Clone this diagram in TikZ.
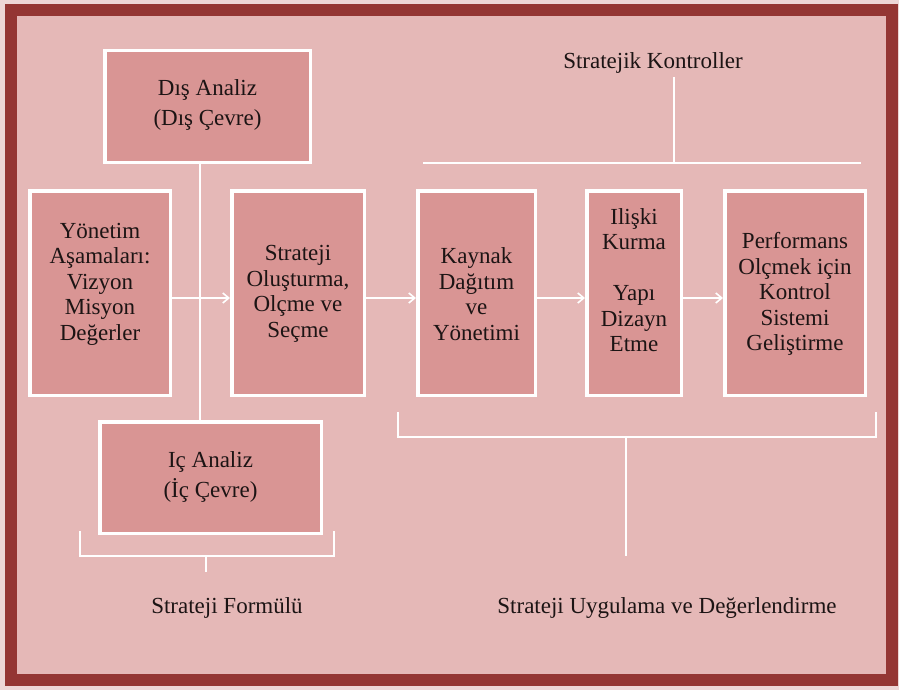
\documentclass[tikz,border=0pt]{standalone}
\usepackage{fontspec}
\setmainfont{Liberation Serif}
\newfontfamily\labelface{Liberation Serif}
\usetikzlibrary{arrows.meta,calc}

\definecolor{frameRed}{HTML}{943634}
\definecolor{panelPink}{HTML}{E5B8B7}
\definecolor{boxPink}{HTML}{D99594}
\definecolor{outerPale}{HTML}{EDD6D6}
\definecolor{inkDark}{HTML}{1C1414}

\tikzset{
  stagebox/.style={draw=white, line width=3.5pt, fill=boxPink, inner sep=0pt},
  lbl/.style={text=inkDark, font=\labelface\fontsize{23}{25.5}\selectfont, align=center, inner sep=0pt},
  lblwide/.style={text=inkDark, font=\labelface\fontsize{23}{30.5}\selectfont, align=center, inner sep=0pt},
  wire/.style={draw=white, line width=2pt},
  flow/.style={wire, -{Straight Barb[length=6pt,width=10pt,line width=1.6pt]}},
}

\begin{document}
\begin{tikzpicture}[x=1pt,y=-1pt]
  \useasboundingbox (0,0) rectangle (899,690);
  % page, frame and panel
  \fill[outerPale] (0,0) rectangle (899,690);
  \fill[panelPink] (11,10) rectangle (892,680);
  \draw[frameRed, line width=12pt] (11,10) rectangle (892,680);

  % stage boxes
  \node[stagebox, minimum width=205.5pt, minimum height=111.5pt] (dis) at (207.5,106.5) {};
  \node[stagebox, minimum width=140.5pt, minimum height=204.5pt] (yon) at (100,293) {};
  \node[stagebox, minimum width=132.5pt, minimum height=204.5pt] (str) at (298,293) {};
  \node[stagebox, minimum width=117.5pt, minimum height=204.5pt] (kay) at (476.5,293) {};
  \node[stagebox, minimum width=94.5pt,  minimum height=204.5pt] (ili) at (634,293) {};
  \node[stagebox, minimum width=140.5pt, minimum height=204.5pt] (per) at (795,293) {};
  \node[stagebox, minimum width=221.5pt, minimum height=111.5pt] (ic)  at (210.5,477.5) {};

  % box texts
  \node[lblwide] (disT) at (207.5,105) {Dış Analiz\\(Dış Çevre)};
  \node[lbl] (yonT) at (100,284) {Yönetim\\Aşamaları:\\Vizyon\\Misyon\\Değerler};
  \node[lbl] (strT) at (298,294) {Strateji\\Oluşturma,\\Olçme ve\\Seçme};
  \node[lbl] (kayT) at (476.5,294) {Kaynak\\Dağıtım\\ve\\Yönetimi};
  \node[lbl] (iliT) at (634,280) {Ilişki\\Kurma\\[25.5pt]Yapı\\Dizayn\\Etme};
  \node[lbl] (perT) at (795,294) {Performans\\Olçmek için\\Kontrol\\Sistemi\\Geliştirme};
  \node[lblwide] (icT) at (210.5,477) {Iç Analiz\\(İç Çevre)};

  % analysis spine
  \coordinate (spine) at (200,0);
  \draw[wire] (spine |- dis.south) -- (spine |- ic.north);

  % process flow
  \draw[flow] ([yshift=-5pt]yon.east) -- ([yshift=-5pt]str.west);
  \draw[flow] ([yshift=-5pt]str.east) -- ([yshift=-5pt]kay.west);
  \draw[flow] ([yshift=-5pt]kay.east) -- ([yshift=-5pt]ili.west);
  \draw[flow] ([yshift=-5pt]ili.east) -- ([yshift=-5pt]per.west);

  % strategic controls bracket
  \node[lbl] (ctrl) at (653,63) {Stratejik Kontroller};
  \coordinate (ctrlL) at (423,163);
  \coordinate (ctrlR) at (861,163);
  \coordinate (ctrlM) at (674,163);
  \coordinate (ctrlTop) at (674,77);
  \draw[wire] (ctrlL) -- (ctrlR);
  \draw[wire] (ctrlTop) -- (ctrlM);

  % formulation bracket
  \coordinate (fL) at (80,531);
  \coordinate (fR) at (334,531);
  \coordinate (fM) at (206,556);
  \coordinate (fT) at (206,572);
  \node[lbl] (form) at (227,608) {Strateji Formülü};
  \draw[wire] (fL) -- (fL |- fM) -- (fR |- fM) -- (fR);
  \draw[wire] (fM) -- (fT);

  % implementation bracket
  \coordinate (iL) at (398,412);
  \coordinate (iR) at (876,412);
  \coordinate (iM) at (626,437);
  \coordinate (iT) at (626,556);
  \node[lbl] (impl) at (667,608) {Strateji Uygulama ve Değerlendirme};
  \draw[wire] (iL) -- (iL |- iM) -- (iR |- iM) -- (iR);
  \draw[wire] (iM) -- (iT);
\end{tikzpicture}
\end{document}
